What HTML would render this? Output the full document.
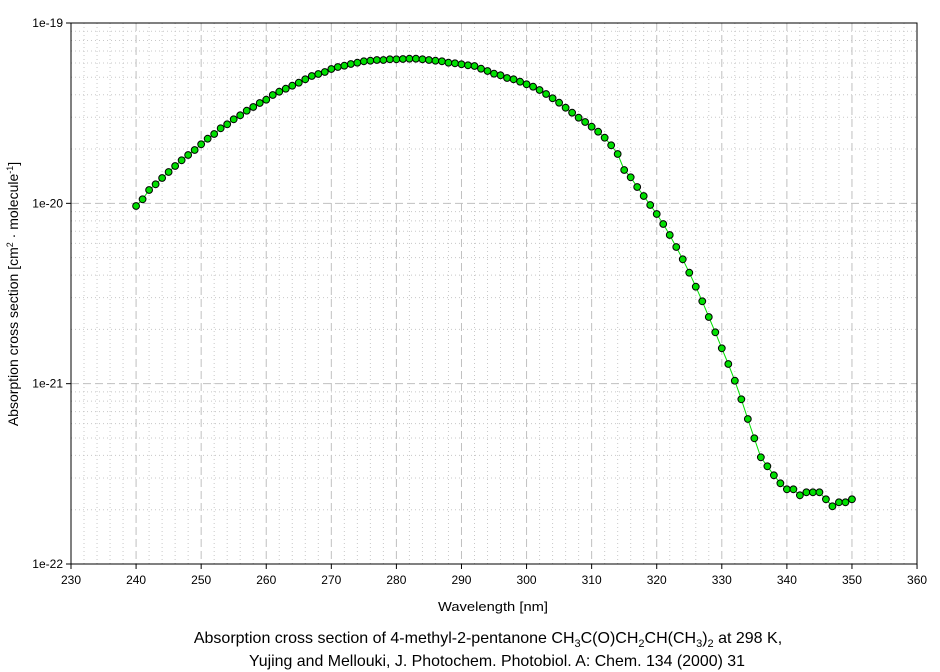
<!DOCTYPE html>
<html><head><meta charset="utf-8">
<style>
html,body{margin:0;padding:0;background:#fff;}
svg{display:block;font-family:"Liberation Sans",Arial,sans-serif;}
</style></head>
<body>
<svg id="s" width="940" height="672" viewBox="0 0 940 672" xmlns="http://www.w3.org/2000/svg">
<g id="grid"></g>
<rect x="71" y="23" width="846" height="541" fill="none" stroke="#000" stroke-width="1"/>
<g id="ticks" font-size="12" fill="#000"></g>
<polyline id="line" fill="none" stroke="#00e000" stroke-width="1"/>
<g id="pts"></g>
<text x="493" y="611" font-size="13" text-anchor="middle" textLength="110" lengthAdjust="spacingAndGlyphs">Wavelength [nm]</text>
<text transform="translate(18,294) rotate(-90)" font-size="14" text-anchor="middle">Absorption cross section [cm<tspan font-size="9" dy="-5">2</tspan><tspan dy="5"> · molecule</tspan><tspan font-size="9" dy="-5">-1</tspan><tspan dy="5">]</tspan></text>
<text x="488" y="643" font-size="16" text-anchor="middle">Absorption cross section of 4-methyl-2-pentanone CH<tspan font-size="11" dy="4">3</tspan><tspan dy="-4">C(O)CH</tspan><tspan font-size="11" dy="4">2</tspan><tspan dy="-4">CH(CH</tspan><tspan font-size="11" dy="4">3</tspan><tspan dy="-4">)</tspan><tspan font-size="11" dy="4">2</tspan><tspan dy="-4"> at 298 K,</tspan></text>
<text x="497" y="666" font-size="16" text-anchor="middle" textLength="496" lengthAdjust="spacingAndGlyphs">Yujing and Mellouki, J. Photochem. Photobiol. A: Chem. 134 (2000) 31</text>
</svg>
<script>
var NS="http://www.w3.org/2000/svg";
function el(p,t,a,txt){var e=document.createElementNS(NS,t);for(var k in a)e.setAttribute(k,a[k]);if(txt!==undefined)e.textContent=txt;p.appendChild(e);return e;}
var g=document.getElementById("grid"),tk=document.getElementById("ticks");
function X(nm){return 71+(nm-230)*6.508;}
var dec=180.33;
for(var nm=232;nm<360;nm+=2){var x=X(nm);
 if(nm%10==0) el(g,"line",{x1:x,y1:23,x2:x,y2:564,stroke:"#c0c0c0","stroke-dasharray":"8,4"});
 else el(g,"line",{x1:x,y1:23,x2:x,y2:564,stroke:"#c8c8c8","stroke-dasharray":"1,3"});}
for(var d=0;d<3;d++){var base=564-d*dec;
 if(d>0) el(g,"line",{x1:71,y1:base,x2:917,y2:base,stroke:"#c0c0c0","stroke-dasharray":"8,4"});
 for(var k=2;k<10;k++){var y=base-Math.log10(k)*dec;el(g,"line",{x1:71,y1:y,x2:917,y2:y,stroke:"#c8c8c8","stroke-dasharray":"1,3"});}}
for(var nm=230;nm<=360;nm+=10){var x=X(nm);el(tk,"line",{x1:x,y1:564,x2:x,y2:569,stroke:"#000"});el(tk,"text",{x:x,y:584,"text-anchor":"middle"},String(nm));}
var labs=["1e-22","1e-21","1e-20","1e-19"];
for(var d=0;d<4;d++){var y=564-d*dec;el(tk,"line",{x1:66,y1:y,x2:71,y2:y,stroke:"#000"});el(tk,"text",{x:63,y:y+4,"text-anchor":"end"},labs[d]);}
var ys=[206,199.3,190,184.3,178,172,166,160.3,155,150,144.3,138.7,134,128.3,124.3,119.3,115.3,110.7,107,103,99.7,95,91.7,88.7,85.7,82.7,79.3,76,74,72,69,67,65.7,64,62.7,61.3,60.7,60,60,59.3,59.3,59,58.7,58.7,59.3,60,60.7,61.3,62.7,63.3,64.3,65.3,66,68.7,71,73.7,75.3,78,79.3,81.7,84.3,86.7,90,94,98.3,102.7,107.7,112.7,117.7,122,126.7,131.7,137.7,145.3,154,170,177.3,187,196,205,214,224,235,247,259.3,272.7,286.7,301.3,317,332.3,348.3,364,380.7,399.3,419,438.3,457.3,466.3,475.3,483.3,489.3,489.3,495.3,492.3,492.3,492.3,499.3,506.3,502.3,502.3,499.3];
var pts=[],pg=document.getElementById("pts");
for(var i=0;i<ys.length;i++){var x=X(240+i);pts.push(x.toFixed(1)+","+ys[i]);el(pg,"circle",{cx:x,cy:ys[i],r:3.4,fill:"#00e000",stroke:"#000","stroke-width":1});}
document.getElementById("line").setAttribute("points",pts.join(" "));
</script>
</body></html>
